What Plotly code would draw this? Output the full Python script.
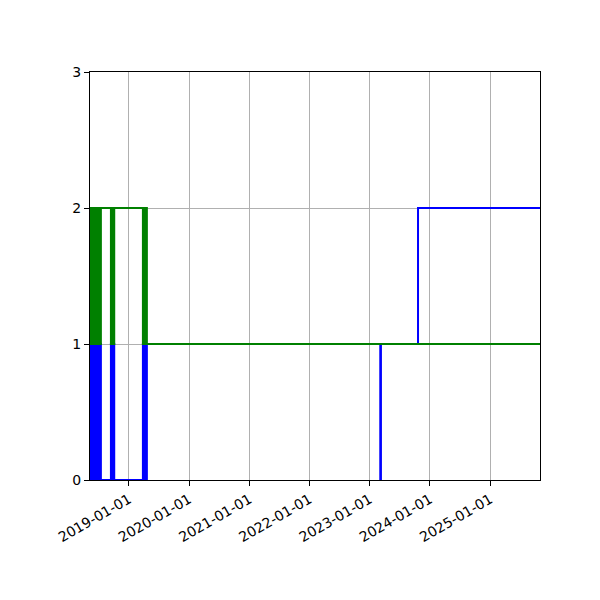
import plotly.graph_objects as go

# step series, each value holds until the next date (steps-post)
blue_dates = [
    "2018-05-10", "2018-05-14", "2018-05-17", "2018-05-20",
    "2018-05-28", "2018-06-01", "2018-06-05", "2018-06-09", "2018-06-13",
    "2018-06-17", "2018-06-21", "2018-06-25", "2018-06-29", "2018-07-03",
    "2018-07-07", "2018-07-11", "2018-07-15", "2018-07-20",
    "2018-09-14", "2018-09-18", "2018-09-22", "2018-09-26", "2018-09-30", "2018-10-04",
    "2019-03-27", "2019-03-31", "2019-04-04", "2019-04-08", "2019-04-12",
    "2019-04-16", "2019-04-20", "2019-04-26",
    "2023-03-06", "2023-03-10", "2023-10-21", "2025-10-30",
]
blue_vals = [
    0, 1, 0, 1,
    0, 1, 0, 1, 0,
    1, 0, 1, 0, 1,
    0, 1, 0, 0,
    1, 0, 1, 0, 1, 0,
    1, 0, 1, 0, 1,
    0, 1, 1,
    0, 1, 2, 2,
]

green_dates = [
    "2018-05-10", "2018-05-14", "2018-05-17", "2018-05-20",
    "2018-05-28", "2018-06-01", "2018-06-05", "2018-06-09", "2018-06-13",
    "2018-06-17", "2018-06-21", "2018-06-25", "2018-06-29", "2018-07-03",
    "2018-07-07", "2018-07-11", "2018-07-15", "2018-07-20",
    "2018-09-14", "2018-09-18", "2018-09-22", "2018-09-26", "2018-09-30", "2018-10-04",
    "2019-03-27", "2019-03-31", "2019-04-04", "2019-04-08", "2019-04-12",
    "2019-04-16", "2019-04-20", "2019-04-26", "2025-10-30",
]
green_vals = [
    2, 1, 2, 1,
    2, 1, 2, 1, 2,
    1, 2, 1, 2, 1,
    2, 1, 2, 2,
    1, 2, 1, 2, 1, 2,
    1, 2, 1, 2, 1,
    2, 1, 1, 1,
]

year_ticks = ["2019-01-01", "2020-01-01", "2021-01-01", "2022-01-01",
              "2023-01-01", "2024-01-01", "2025-01-01"]
y_ticks = [0, 1, 2, 3]

fig = go.Figure()
fig.add_trace(go.Scatter(x=blue_dates, y=blue_vals, mode="lines",
                         line=dict(color="blue", width=2, shape="hv")))
fig.add_trace(go.Scatter(x=green_dates, y=green_vals, mode="lines",
                         line=dict(color="green", width=2, shape="hv")))

axis_style = dict(showline=True, linecolor="black", linewidth=1, mirror=True,
                  ticks="outside", ticklen=5, tickcolor="black",
                  showgrid=True, gridcolor="#b0b0b0", gridwidth=1,
                  zeroline=False, tickfont=dict(size=14, color="black"))

fig.update_xaxes(range=[blue_dates[0], blue_dates[-1]], tickvals=year_ticks,
                 ticktext=year_ticks, tickangle=-30, **axis_style)
fig.update_yaxes(range=[0, 3], tickvals=y_ticks, **axis_style)

# page body adds ~8px offset, margins compensate for it
fig.update_layout(width=600, height=600, showlegend=False,
                  margin=dict(l=82, r=68, t=64, b=128),
                  paper_bgcolor="white", plot_bgcolor="white",
                  font=dict(family="DejaVu Sans"))

fig.write_html("out.html")
